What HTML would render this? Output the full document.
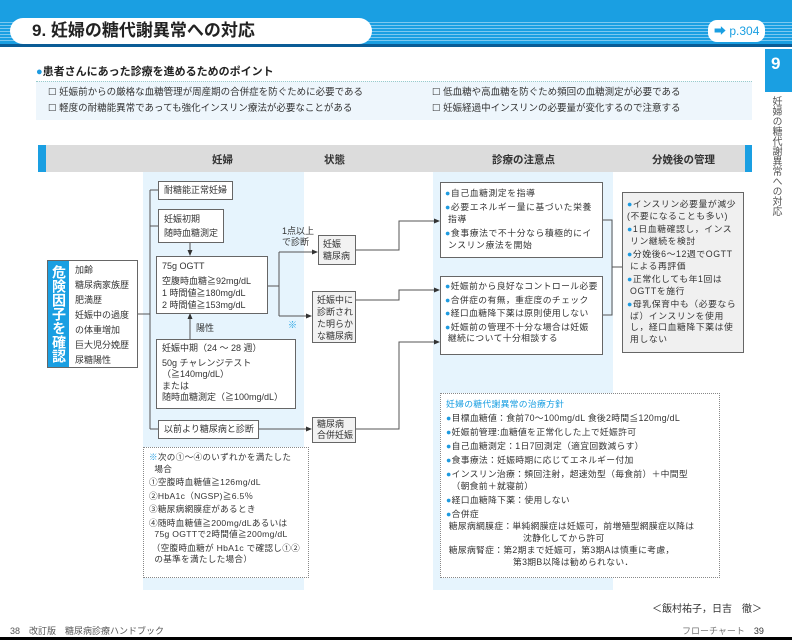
<!DOCTYPE html>
<html><head><meta charset="utf-8"><style>
*{margin:0;padding:0;box-sizing:border-box}
body{width:792px;height:640px;position:relative;background:#fff;font-family:"Liberation Sans","Noto Sans CJK JP",sans-serif;color:#333;overflow:hidden}
.a{position:absolute}
.bx{position:absolute;border:1px solid #666;background:#fff;font-size:9px;line-height:12px;padding:2px 5px;white-space:nowrap}
.dot{color:#1e9be0}
.ul{font-size:8.8px;line-height:12px}
.ul div{margin-bottom:2px}
.ls{letter-spacing:0.6px}
</style></head><body>
<!-- header -->
<div class="a" style="left:0;top:0;width:792px;height:46px;background:#1a9fe2"></div>
<div class="a" style="left:0;top:20px;width:792px;height:22px;background:repeating-linear-gradient(#1a9fe2 0 2px,#7cc8f0 2px 3px)"></div>
<div class="a" style="left:0;top:44px;width:792px;height:3px;background:#0a5c96"></div>
<div class="a" style="left:10px;top:18px;width:362px;height:26px;background:#fff;border-radius:13px"></div>
<div class="a" style="left:32px;top:19px;font-size:17px;font-weight:bold;color:#222;line-height:24px">9. 妊婦の糖代謝異常への対応</div>
<div class="a" style="left:708px;top:20px;width:57px;height:22px;background:#fff;border-radius:9px;color:#1a9fe2;font-size:12px;line-height:22px;padding-left:6px">➡ p.304</div>
<!-- side tab -->
<div class="a" style="left:765px;top:49px;width:27px;height:43px;background:#1a9fe2;color:#fff;font-weight:bold;font-size:17px;padding:5px 0 0 6px">9</div>
<div class="a" style="left:770px;top:96px;font-size:10px;line-height:10px;writing-mode:vertical-rl;color:#555">妊婦の糖代謝異常への対応</div>
<!-- points -->
<div class="a" style="left:36px;top:63px;font-size:11px;font-weight:bold;color:#222"><span class="dot">●</span>患者さんにあった診療を進めるためのポイント</div>
<div class="a" style="left:36px;top:81px;width:716px;height:39px;background:#eef6fc;border-top:1px dotted #9cc"></div>
<div class="a" style="left:48px;top:85px;font-size:9.5px;line-height:16px;color:#333">☐ 妊娠前からの厳格な血糖管理が周産期の合併症を防ぐために必要である<br>☐ 軽度の耐糖能異常であっても強化インスリン療法が必要なことがある</div>
<div class="a" style="left:432px;top:85px;font-size:9.5px;line-height:16px;color:#333">☐ 低血糖や高血糖を防ぐため頻回の血糖測定が必要である<br>☐ 妊娠経過中インスリンの必要量が変化するので注意する</div>
<!-- flow header -->
<div class="a" style="left:38px;top:145px;width:714px;height:27px;background:#dcdcdc"></div>
<div class="a" style="left:38px;top:145px;width:8px;height:27px;background:#1a9fe2"></div>
<div class="a" style="left:745px;top:145px;width:7px;height:27px;background:#1a9fe2"></div>
<div class="a" style="left:212px;top:152px;font-size:10.5px;font-weight:bold">妊婦</div>
<div class="a" style="left:324px;top:152px;font-size:10.5px;font-weight:bold">状態</div>
<div class="a" style="left:492px;top:152px;font-size:10.5px;font-weight:bold">診療の注意点</div>
<div class="a" style="left:652px;top:152px;font-size:10.5px;font-weight:bold">分娩後の管理</div>
<div class="a" style="left:143px;top:172px;width:161px;height:418px;background:#e6f4fd"></div>
<div class="a" style="left:433px;top:172px;width:180px;height:418px;background:#e6f4fd"></div>
<!-- lines -->
<svg class="a" style="left:0;top:0" width="792" height="640">
<defs><marker id="m" markerWidth="6" markerHeight="6" refX="5" refY="3" orient="auto"><path d="M0,0.5 L6,3 L0,5.5z" fill="#333"/></marker></defs>
<g stroke="#555" stroke-width="1" fill="none">
<path d="M137,314 H150 M150,190 V429 M150,190 H158 M150,226 H158 M150,429 H158"/>
<path d="M190,243 V255" marker-end="url(#m)"/>
<path d="M190,339 V314" marker-end="url(#m)"/>
<path d="M268,286 H279 M279,252 V316"/>
<path d="M279,252 H317" marker-end="url(#m)"/>
<path d="M279,316 H311" marker-end="url(#m)"/>
<path d="M258,429 H311" marker-end="url(#m)"/>
<path d="M356,250 H399 V221 H439" marker-end="url(#m)"/>
<path d="M356,300 H399 V290 H439" marker-end="url(#m)"/>
<path d="M356,429 H399 V342 H439" marker-end="url(#m)"/>
<path d="M603,220 H612 V315 H603 M612,267 H622"/>
</g></svg>
<!-- risk -->
<div class="a" style="left:47px;top:260px;width:91px;height:108px;border:1px solid #666;background:#fff"></div>
<div class="a" style="left:48px;top:261px;width:21px;height:106px;background:#1a9fe2;color:#fff;font-weight:bold;font-size:14px;line-height:15px;writing-mode:vertical-rl;padding:4px 3px 0 0">危険因子を確認</div>
<div class="a" style="left:75px;top:263px;font-size:9px;line-height:15px">加齢<br>糖尿病家族歴<br>肥満歴<br>妊娠中の過度<br>の体重増加<br>巨大児分娩歴<br>尿糖陽性</div>
<div class="bx" style="left:158px;top:181px;width:75px;height:19px">耐糖能正常妊婦</div>
<div class="bx" style="left:158px;top:209px;width:66px;height:34px;line-height:14px">妊娠初期<br>随時血糖測定</div>
<div class="bx" style="left:156px;top:256px;width:112px;height:58px;line-height:12px;padding-top:3px">75g OGTT<div style="height:3px"></div>空腹時血糖≧92mg/dL<br>1 時間値≧180mg/dL<br>2 時間値≧153mg/dL</div>
<div class="a" style="left:196px;top:321px;font-size:9px">陽性</div>
<div class="bx" style="left:156px;top:339px;width:140px;height:70px;line-height:11.5px;padding-top:3px">妊娠中期（24 ～ 28 週）<div style="height:3px"></div>50g チャレンジテスト<br>（≧140mg/dL）<br>または<br>随時血糖測定（≧100mg/dL）</div>
<div class="bx" style="left:158px;top:420px;width:101px;height:19px">以前より糖尿病と診断</div>
<div class="a" style="left:282px;top:226px;font-size:9px;line-height:11px">1点以上<br>で診断</div>
<div class="a" style="left:288px;top:318px;font-size:9px;color:#1a9fe2">※</div>
<div class="bx" style="left:318px;top:235px;width:38px;height:30px;line-height:12px;padding:2px 4px;background:#f2f2f2">妊娠<br>糖尿病</div>
<div class="bx" style="left:312px;top:291px;width:44px;height:52px;line-height:12px;padding:2px 4px;background:#f2f2f2">妊娠中に<br>診断され<br>た明らか<br>な糖尿病</div>
<div class="bx" style="left:312px;top:417px;width:44px;height:26px;line-height:11px;padding:1px 4px;background:#f2f2f2">糖尿病<br>合併妊娠</div>
<!-- care -->
<div class="bx ul ls" style="left:440px;top:182px;width:163px;height:76px;padding:4px 4px"><div><span class="dot">●</span>自己血糖測定を指導</div><div><span class="dot">●</span>必要エネルギー量に基づいた栄養<br>&nbsp;指導</div><div><span class="dot">●</span>食事療法で不十分なら積極的にイ<br>&nbsp;ンスリン療法を開始</div></div>
<div class="bx ul ls" style="left:440px;top:276px;width:163px;height:79px;padding:4px 4px;line-height:11.5px;letter-spacing:0.4px"><div><span class="dot">●</span>妊娠前から良好なコントロール必要</div><div><span class="dot">●</span>合併症の有無，重症度のチェック</div><div><span class="dot">●</span>経口血糖降下薬は原則使用しない</div><div><span class="dot">●</span>妊娠前の管理不十分な場合は妊娠<br>&nbsp;継続について十分相談する</div></div>
<div class="bx ul ls" style="left:622px;top:192px;width:122px;height:161px;background:#f0f0f0;padding:6px 4px;line-height:11.5px"><div><span class="dot">●</span>インスリン必要量が減少<br>(不要になることも多い)</div><div><span class="dot">●</span>1日血糖確認し，インス<br>&nbsp;リン継続を検討</div><div><span class="dot">●</span>分娩後6～12週でOGTT<br>&nbsp;による再評価</div><div><span class="dot">●</span>正常化しても年1回は<br>&nbsp;OGTTを施行</div><div><span class="dot">●</span>母乳保育中も（必要なら<br>&nbsp;ば）インスリンを使用<br>&nbsp;し，経口血糖降下薬は使<br>&nbsp;用しない</div></div>
<!-- footnote -->
<div class="a ul" style="left:143px;top:447px;width:166px;height:131px;border:1px dotted #888;background:#fff;padding:4px 5px;font-size:8.6px;line-height:11.5px;white-space:nowrap;letter-spacing:0.3px"><div><span class="dot">※</span>次の①～④のいずれかを満たした<br>&nbsp;&nbsp;場合</div><div>①空腹時血糖値≧126mg/dL</div><div>②HbA1c（NGSP)≧6.5％</div><div>③糖尿病網膜症があるとき</div><div>④随時血糖値≧200mg/dLあるいは<br>&nbsp;&nbsp;75g OGTTで2時間値≧200mg/dL</div><div>&nbsp;（空腹時血糖が HbA1c で確認し①②<br>&nbsp;&nbsp;の基準を満たした場合）</div></div>
<div class="a ul" style="left:440px;top:393px;width:280px;height:185px;border:1px dotted #888;background:#fff;padding:4px 5px;font-size:8.8px;line-height:12px;white-space:nowrap;letter-spacing:0.3px"><div style="color:#1a9fe2">妊婦の糖代謝異常の治療方針</div><div><span class="dot">●</span>目標血糖値：食前70～100mg/dL 食後2時間≦120mg/dL</div><div><span class="dot">●</span>妊娠前管理:血糖値を正常化した上で妊娠許可</div><div><span class="dot">●</span>自己血糖測定：1日7回測定（適宜回数減らす）</div><div><span class="dot">●</span>食事療法：妊娠時期に応じてエネルギー付加</div><div><span class="dot">●</span>インスリン治療：頻回注射，超速効型（毎食前）＋中間型<br>&nbsp;&nbsp;（朝食前＋就寝前）</div><div><span class="dot">●</span>経口血糖降下薬：使用しない</div><div style="margin:0"><span class="dot">●</span>合併症<br>&nbsp;糖尿病網膜症：単純網膜症は妊娠可，前増殖型網膜症以降は<br><span style="padding-left:77px">沈静化してから許可</span><br>&nbsp;糖尿病腎症：第2期まで妊娠可，第3期Aは慎重に考慮，<br><span style="padding-left:67px">第3期B以降は勧められない．</span></div></div>
<div class="a" style="left:652px;top:600px;font-size:10px">＜飯村祐子，日吉　徹＞</div>
<div class="a" style="left:10px;top:624px;font-size:9px;color:#555">38　改訂版　糖尿病診療ハンドブック</div>
<div class="a" style="left:682px;top:624px;font-size:9px;color:#777">フローチャート　<span style="color:#333">39</span></div>
<div class="a" style="left:0;top:637px;width:792px;height:3px;background:#000"></div>
</body></html>
